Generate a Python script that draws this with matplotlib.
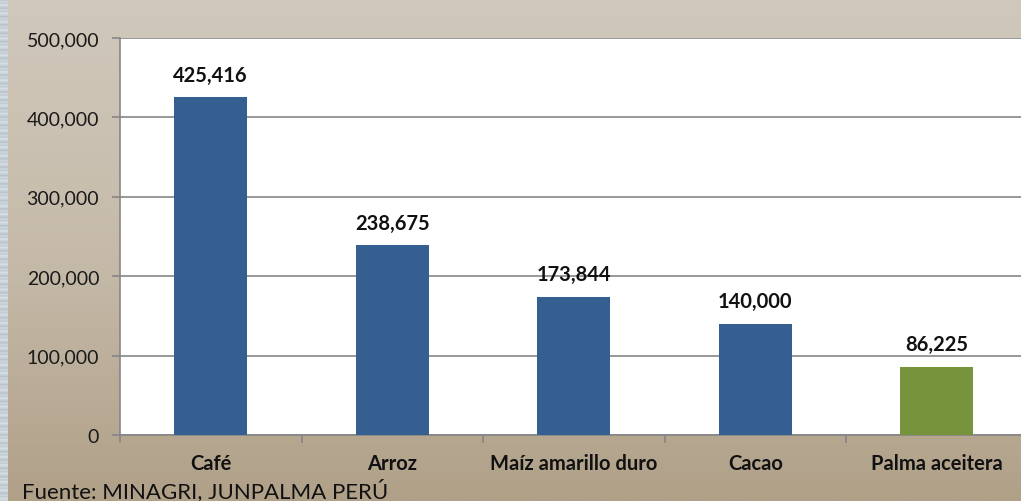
import numpy as np
import matplotlib
matplotlib.use("Agg")
import matplotlib.pyplot as plt
from matplotlib.colors import LinearSegmentedColormap

categories = ["Café", "Arroz", "Maíz amarillo duro", "Cacao", "Palma aceitera"]
values = [425416, 238675, 173844, 140000, 86225]
bar_colors = ["#365F91", "#365F91", "#365F91", "#365F91", "#77933C"]
yticks = [0, 100000, 200000, 300000, 400000, 500000]
source = "Fuente: MINAGRI, JUNPALMA PERÚ"

plt.rcParams['font.family'] = ['Lato', 'DejaVu Sans']

W, H = 1021, 502
fig = plt.figure(figsize=(W / 100, H / 100), dpi=100)

# background gradient
bg = fig.add_axes([0, 0, 1, 1], zorder=-10)
cmap = LinearSegmentedColormap.from_list("bg", ["#D0C8BC", "#C6BBAA", "#B0A088"])
grad = np.linspace(0, 1, 256).reshape(-1, 1)
bg.imshow(grad, aspect="auto", cmap=cmap, extent=[0, 1, 0, 1], origin="upper")
# textured left strip
strip = fig.add_axes([0, 0, 7 / W, 1], zorder=-9)
tex = np.tile(np.array([[0.0], [0.6], [0.3], [0.9], [0.5]]), (60, 3))
strip.imshow(tex, aspect="auto", cmap=LinearSegmentedColormap.from_list("s", ["#B8C4CC", "#D8DEE4"]),
             extent=[0, 1, 0, 1])
strip.axis("off")
bg.axis("off")

left, right = 120 / W, 1027.5 / W
bottom, top = (H - 436) / H, (H - 39) / H
ax = fig.add_axes([left, bottom, right - left, top - bottom])
ax.set_facecolor("white")

x = np.arange(len(categories))
ax.bar(x, values, width=0.4, color=bar_colors, zorder=3)
ax.set_xlim(-0.5, len(categories) - 0.5)
ax.set_ylim(0, 500000)
ax.set_yticks(yticks)
ax.set_yticklabels([f"{v:,}" for v in yticks], fontsize=14, color="#1a1a1a")
ax.yaxis.grid(True, color="#868686", linewidth=1.2, zorder=0)
ax.set_axisbelow(True)

ax.set_xticks(x)
ax.set_xticklabels(categories, fontsize=14.5, fontweight="bold", color="#111111")
ax.tick_params(axis="x", length=0, pad=13)
ax.set_xticks(np.arange(-0.5, len(categories) + 0.5, 1), minor=True)
ax.tick_params(axis="x", which="minor", length=6, color="#868686", width=1.2)
ax.tick_params(axis="y", length=6, color="#868686", width=1.2, pad=9)

for s in ["top", "right"]:
    ax.spines[s].set_visible(False)
for s in ["left", "bottom"]:
    ax.spines[s].set_color("#868686")
    ax.spines[s].set_linewidth(1.2)

for xi, v in zip(x, values):
    ax.annotate(f"{v:,}", (xi, v), xytext=(0, 9), textcoords="offset points",
                ha="center", va="bottom", fontsize=14.5, fontweight="bold", color="#111111")

fig.text(22 / W, 1 - 491 / H, source, fontsize=16, color="#111111", va="center", ha="left")

fig.savefig("out.png", dpi=100)
